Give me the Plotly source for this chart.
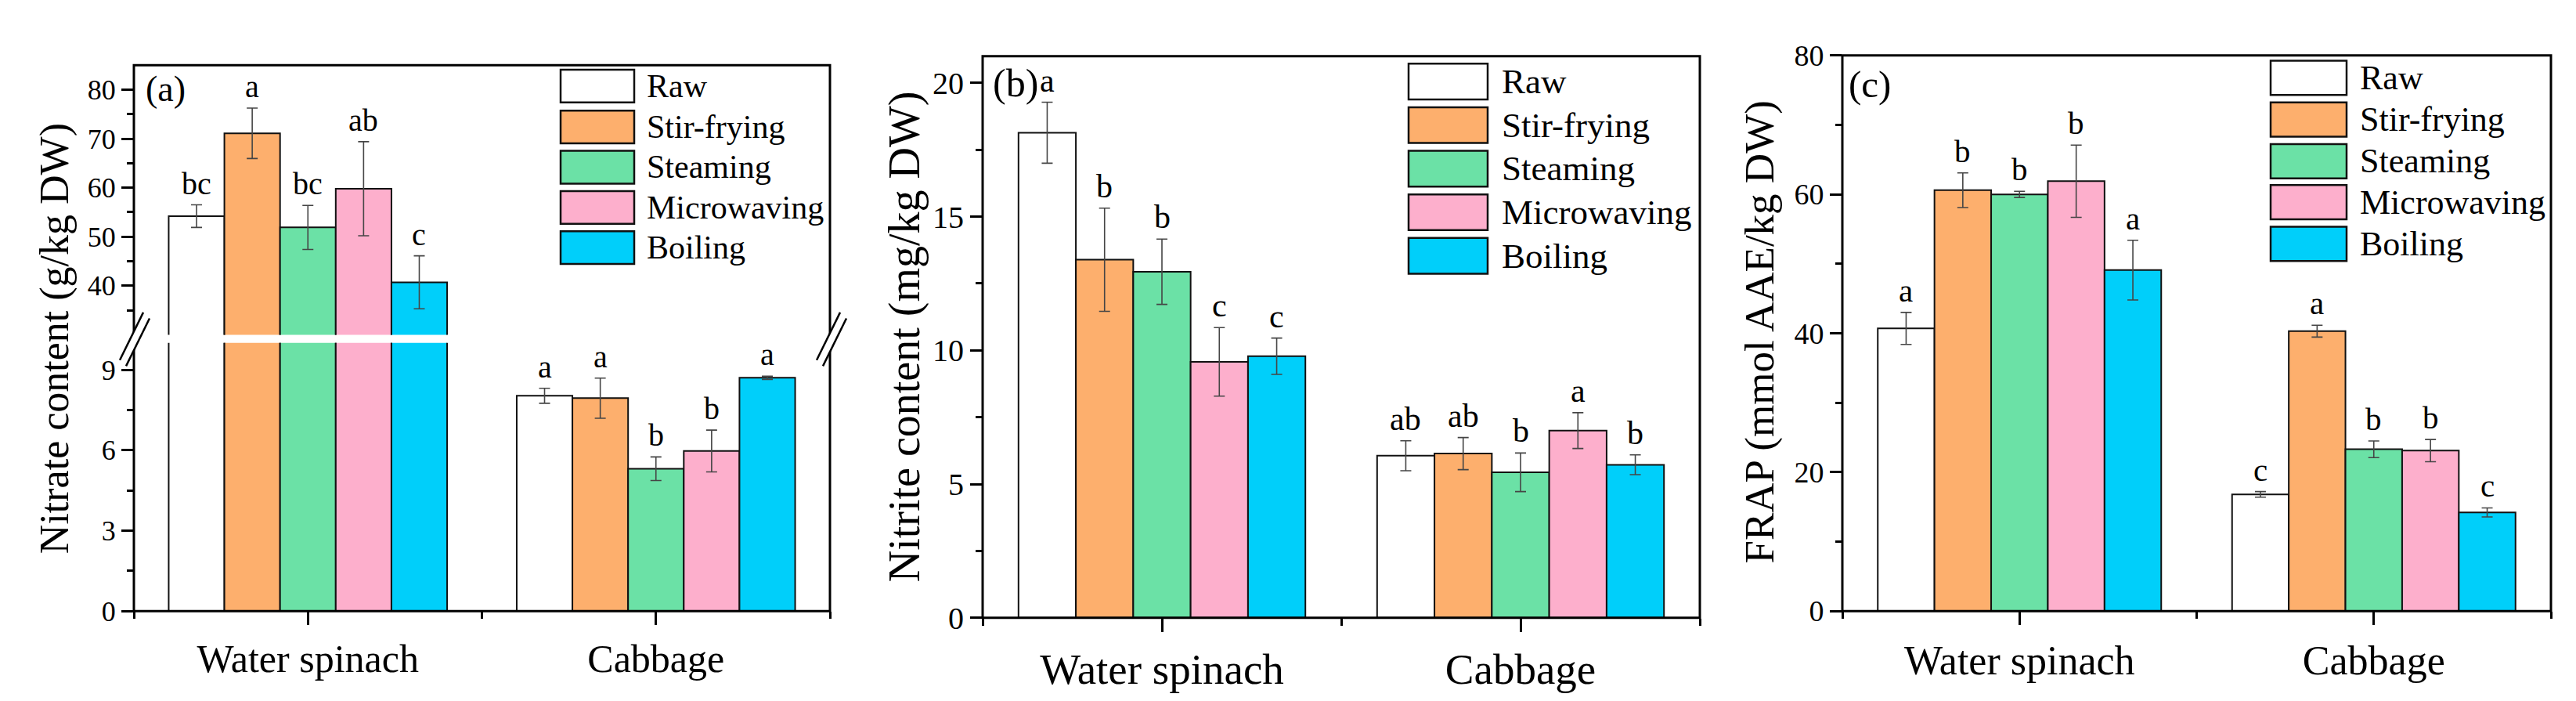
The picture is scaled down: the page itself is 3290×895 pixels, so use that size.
import plotly.graph_objects as go

W, H = 3290, 895
FONT = "'Liberation Serif', 'Times New Roman', Times, 'DejaVu Serif', serif"

categories = ["Water spinach", "Cabbage"]
methods = ["Raw", "Stir-frying", "Steaming", "Microwaving", "Boiling"]
colors = ["#FFFFFF", "#FDAF6D", "#6BE1A6", "#FDAFCC", "#00CFFA"]

# (a) Nitrate content (g/kg DW): [Water spinach, Cabbage]
nitrate_vals = [[54.2, 8.03], [71.1, 7.94], [51.9, 5.31], [59.8, 5.97], [40.7, 8.70]]
nitrate_errs = [[2.3, 0.28], [5.15, 0.75], [4.5, 0.44], [9.6, 0.78], [5.4, 0.06]]
nitrate_letters = [["bc", "a"], ["a", "a"], ["bc", "b"], ["ab", "b"], ["c", "a"]]
nitrate_upper_ticks = [40, 50, 60, 70, 80]
nitrate_upper_minor = [35, 45, 55, 65, 75]

# (b) Nitrite content (mg/kg DW)
nitrite_vals = [[18.14, 6.06], [13.39, 6.14], [12.94, 5.44], [9.57, 7.00], [9.78, 5.72]]
nitrite_errs = [[1.14, 0.56], [1.93, 0.60], [1.22, 0.72], [1.28, 0.67], [0.68, 0.37]]
nitrite_letters = [["a", "ab"], ["b", "ab"], ["b", "b"], ["c", "a"], ["c", "b"]]

# (c) FRAP (mmol AAE/kg DW)
frap_vals = [[40.7, 16.8], [60.6, 40.3], [60.0, 23.3], [61.9, 23.1], [49.1, 14.2]]
frap_errs = [[2.3, 0.4], [2.5, 0.85], [0.45, 1.2], [5.2, 1.6], [4.3, 0.65]]
frap_letters = [["a", "c"], ["b", "a"], ["b", "b"], ["b", "b"], ["a", "c"]]


def X(px):
    return px / W


def Y(py):
    return 1 - py / H


fig = go.Figure()
BARGAP = 0.2
n = len(methods)
bw = (1 - BARGAP) / n


def add_bars(vals, errs, xa, ya):
    for i, m in enumerate(methods):
        fig.add_trace(go.Bar(
            x=list(range(len(categories))), y=vals[i], name=m,
            marker=dict(color=colors[i], line=dict(color="#111111", width=2)),
            error_y=dict(type="data", array=errs[i], color="#454545", thickness=1.6, width=7),
            xaxis=xa, yaxis=ya, showlegend=False))


add_bars(nitrate_vals, nitrate_errs, "x", "y")
add_bars(nitrate_vals, nitrate_errs, "x", "y2")
add_bars(nitrite_vals, nitrite_errs, "x2", "y3")
add_bars(frap_vals, frap_errs, "x3", "y4")

annotations = []
shapes = []


def letters_ann(vals, errs, letters, xref, yref_fn, size):
    for i in range(n):
        for j in range(len(categories)):
            yref = yref_fn(j)
            annotations.append(dict(
                x=j + (i - (n - 1) / 2) * bw, y=vals[i][j] + errs[i][j],
                xref=xref, yref=yref, text=letters[i][j], showarrow=False,
                yanchor="bottom", xanchor="center", yshift=3,
                font=dict(family=FONT, size=size, color="black")))


letters_ann(nitrate_vals, nitrate_errs, nitrate_letters, "x", lambda j: "y2" if j == 0 else "y", 40)
letters_ann(nitrite_vals, nitrite_errs, nitrite_letters, "x2", lambda j: "y3", 42)
letters_ann(frap_vals, frap_errs, frap_letters, "x3", lambda j: "y4", 41)


def xaxis_cfg(left, right, anchor, size):
    return dict(domain=[X(left), X(right)], anchor=anchor, range=[-0.5, 1.5],
                tickvals=list(range(len(categories))), ticktext=categories,
                ticks="outside", ticklen=17, tickwidth=3, tickcolor="black",
                minor=dict(tickvals=[-0.5, 0.5, 1.5], ticks="outside", ticklen=9,
                           tickwidth=3, tickcolor="black"),
                showline=False, showgrid=False, zeroline=False,
                tickfont=dict(family=FONT, size=size, color="black"))


def yaxis_cfg(bottom, top, rng, dtick, mdtick, anchor, size, tickvals=None, minorvals=None):
    cfg = dict(domain=[Y(bottom), Y(top)], anchor=anchor, range=rng,
               ticks="outside", ticklen=15, tickwidth=3, tickcolor="black",
               showline=False, showgrid=False, zeroline=False,
               tickfont=dict(family=FONT, size=size, color="black"))
    minor = dict(ticks="outside", ticklen=8, tickwidth=3, tickcolor="black", showgrid=False)
    if tickvals is not None:
        cfg["tickvals"] = tickvals
        minor["tickvals"] = minorvals
    else:
        cfg["tick0"] = 0
        cfg["dtick"] = dtick
        minor["dtick"] = mdtick
    cfg["minor"] = minor
    return cfg


frames = [(163, 57, 1052, 790), (1247, 45, 2163, 799), (2345, 44, 3250, 790)]
for (l, t, r, b) in frames:
    shapes.append(dict(type="rect", xref="paper", yref="paper", x0=X(l), x1=X(r),
                       y0=Y(b), y1=Y(t), line=dict(color="black", width=3),
                       fillcolor="rgba(0,0,0,0)", layer="above"))

# axis break marks on panel (a)
for cx in (164, 1054):
    cy = 425
    dx, dy = 15, 32
    off = 4
    p = [(cx - dx - off, cy + dy - off), (cx + dx - off, cy - dy - off),
         (cx + dx + off, cy - dy + off), (cx - dx + off, cy + dy + off)]
    path = "M {} {} L {} {} L {} {} L {} {} Z".format(
        *[v for pt in p for v in (X(pt[0]), Y(pt[1]))])
    shapes.append(dict(type="path", xref="paper", yref="paper", path=path,
                       fillcolor="white", line=dict(width=0), layer="above"))
    for s in (-off, off):
        shapes.append(dict(type="line", xref="paper", yref="paper",
                           x0=X(cx - dx + s), y0=Y(cy + dy + s),
                           x1=X(cx + dx + s), y1=Y(cy - dy + s),
                           line=dict(color="black", width=2.5), layer="above"))

# manual legends
legend_specs = [
    dict(x0=708, x1=802, tops=[63, 118, 172, 226, 280], h=44, tx=816, size=42),
    dict(x0=1791, x1=1892, tops=[55, 113.5, 172, 230.5, 289], h=48, tx=1908, size=45),
    dict(x0=2892, x1=2989, tops=[51, 107, 163, 218, 274], h=46, tx=3004, size=44),
]
for spec in legend_specs:
    for i, m in enumerate(methods):
        t = spec["tops"][i]
        shapes.append(dict(type="rect", xref="paper", yref="paper",
                           x0=X(spec["x0"]), x1=X(spec["x1"]),
                           y0=Y(t + spec["h"]), y1=Y(t),
                           fillcolor=colors[i], line=dict(color="#111111", width=2.5)))
        annotations.append(dict(x=X(spec["tx"]), y=Y(t + spec["h"] / 2), xref="paper", yref="paper",
                                text=m, showarrow=False, xanchor="left", yanchor="middle",
                                font=dict(family=FONT, size=spec["size"], color="black")))

# panel labels
for txt, px, py, sz in [("(a)", 176, 60, 46), ("(b)", 1258, 49, 50), ("(c)", 2351, 52, 49)]:
    annotations.append(dict(x=X(px), y=Y(py), xref="paper", yref="paper", text=txt,
                            showarrow=False, xanchor="left", yanchor="top",
                            font=dict(family=FONT, size=sz, color="black")))

# y-axis titles
for txt, px, py, sz in [("Nitrate content (g/kg DW)", 62, 424, 52),
                        ("Nitrite content (mg/kg DW)", 1147, 422, 56),
                        ("FRAP (mmol AAE/kg DW)", 2240, 416, 53)]:
    annotations.append(dict(x=X(px), y=Y(py), xref="paper", yref="paper", text=txt,
                            showarrow=False, xanchor="center", yanchor="middle", textangle=-90,
                            font=dict(family=FONT, size=sz, color="black")))

fig.update_layout(
    width=W, height=H, margin=dict(l=0, r=0, t=0, b=0),
    paper_bgcolor="white", plot_bgcolor="white",
    barmode="group", bargap=BARGAP, bargroupgap=0,
    font=dict(family=FONT, color="black"),
    xaxis=xaxis_cfg(163, 1052, "y", 50),
    yaxis=yaxis_cfg(790, 430, [0, 10], 3, 1.5, "x", 36),
    yaxis2=yaxis_cfg(419, 57, [30, 85], None, None, "x", 36,
                     tickvals=nitrate_upper_ticks, minorvals=nitrate_upper_minor),
    xaxis2=xaxis_cfg(1247, 2163, "y3", 55),
    yaxis3=yaxis_cfg(799, 45, [0, 21], 5, 2.5, "x2", 40),
    xaxis3=xaxis_cfg(2345, 3250, "y4", 52),
    yaxis4=yaxis_cfg(790, 44, [0, 80], 20, 10, "x3", 38),
    annotations=annotations, shapes=shapes,
)

fig.write_html("out.html")
